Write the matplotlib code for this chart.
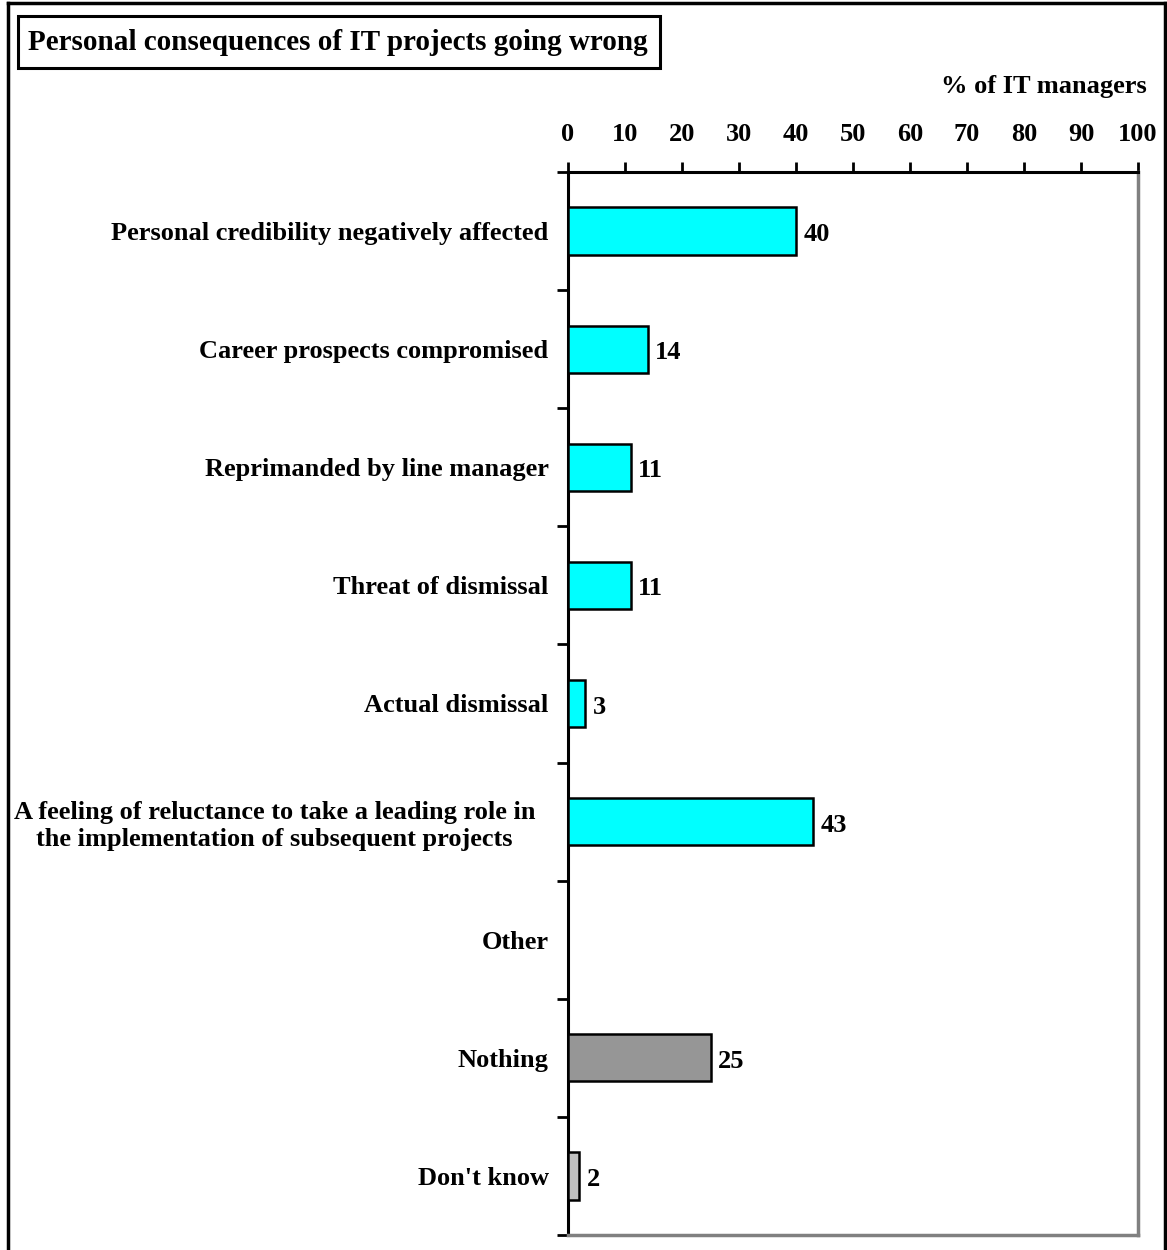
import matplotlib
matplotlib.use("Agg")
import matplotlib.pyplot as plt
from matplotlib.lines import Line2D
from matplotlib.patches import Rectangle

plt.rcParams["font.family"] = ["Liberation Serif", "DejaVu Serif"]
plt.rcParams["font.weight"] = "bold"

categories = [
    "Personal credibility negatively affected",
    "Career prospects compromised",
    "Reprimanded by line manager",
    "Threat of dismissal",
    "Actual dismissal",
    "A feeling of reluctance to take a leading role in  \nthe implementation of subsequent projects  ",
    "Other",
    "Nothing",
    "Don't know",
]
values = [40, 14, 11, 11, 3, 43, None, 25, 2]
bar_colors = ["#00FFFF"] * 7 + ["#969696", "#C0C0C0"]
x_ticks = list(range(0, 101, 10))

FS = 19
W, H = 1167, 1250
fig = plt.figure(figsize=(W / 100, H / 100), dpi=100)
ax = fig.add_axes([568 / W, 1 - 1235 / H, (1138 - 568) / W, (1235 - 172) / H])

for i, (v, c) in enumerate(zip(values, bar_colors)):
    if v is None:
        continue
    ax.barh(i, v, height=0.4, color=c, edgecolor="black", linewidth=1.8, zorder=3)
    ax.text(v + 1.3, i + 0.03, str(v), va="center", ha="left", fontsize=FS,
            fontweight="bold", color="black")

ax.set_xlim(0, 100)
ax.set_ylim(len(categories) - 0.5, -0.5)

# x axis on top
ax.xaxis.tick_top()
ax.set_xticks(x_ticks)
ax.set_xticklabels([str(t) for t in x_ticks], fontsize=FS, fontweight="bold")
ax.tick_params(axis="x", direction="out", length=7, width=2, pad=12)

# y axis: labels at centres, ticks at boundaries
ax.set_yticks(range(len(categories)))
ax.set_yticklabels(categories, fontsize=FS, fontweight="bold", ha="right",
                   multialignment="center")
ax.tick_params(axis="y", which="major", length=0, pad=14)
ax.set_yticks([i - 0.5 for i in range(len(categories) + 1)], minor=True)
ax.tick_params(axis="y", which="minor", direction="out", length=8, width=2)

for s in ("left", "top"):
    ax.spines[s].set_color("black")
    ax.spines[s].set_linewidth(2.2)
for s in ("right", "bottom"):
    ax.spines[s].set_color("#808080")
    ax.spines[s].set_linewidth(2.5)

# axis unit label
fig.text(1147 / W, 1 - 86 / H, "% of IT managers", ha="right", va="center",
         fontsize=FS, fontweight="bold")

# title in a box
fig.patches.append(Rectangle((18 / W, 1 - 68 / H), (660 - 18) / W, (68 - 16) / H,
                             transform=fig.transFigure, facecolor="white",
                             edgecolor="black", linewidth=2.2))
fig.text(28 / W, 1 - 43 / H, "Personal consequences of IT projects going wrong",
         ha="left", va="center", fontsize=21, fontweight="bold")

# outer frame
frame_kw = dict(transform=fig.transFigure, color="black", linewidth=2.5)
fig.add_artist(Line2D([8 / W, 8 / W], [0, 1 - 3 / H], **frame_kw))
fig.add_artist(Line2D([8 / W, 1165 / W], [1 - 3 / H, 1 - 3 / H], **frame_kw))
fig.add_artist(Line2D([1165 / W, 1165 / W], [0, 1 - 3 / H], **frame_kw))

fig.savefig("out.png", dpi=100, facecolor="white")
